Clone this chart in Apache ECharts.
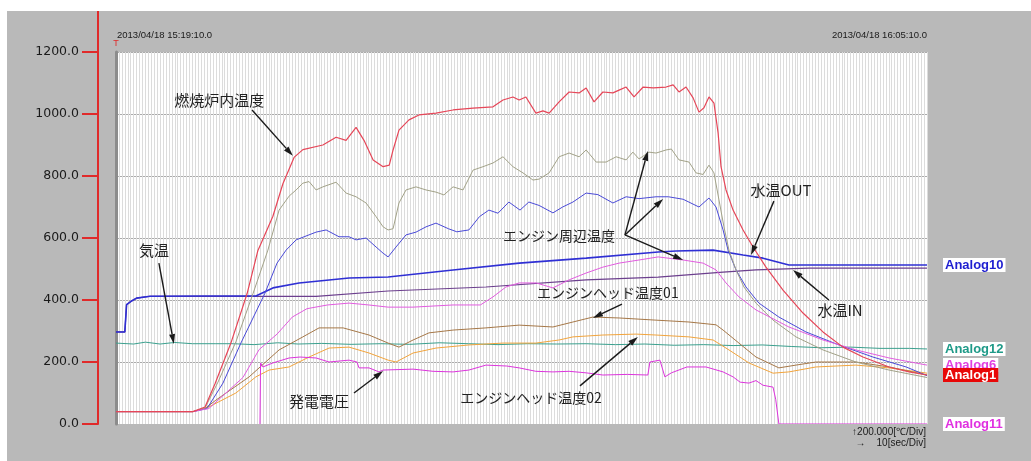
<!DOCTYPE html>
<html>
<head>
<meta charset="utf-8">
<script src="https://cdn.jsdelivr.net/npm/echarts@6/dist/echarts.min.js"></script>
<style>
  html, body { margin: 0; padding: 0; background: #fff; }
  #main { width: 1031px; height: 461px; }
</style>
</head>
<body>
<div id="main"></div>
<script>
// Recorder trace, 2013/04/18 15:19:10 – 16:05:10.
// x = seconds from the start of the record, y = ℃ (200 per division, 10 s per division).
const startStamp = '2013/04/18 15:19:10.0';
const endStamp = '2013/04/18 16:05:10.0';
const scaleNoteY = '↑200.000[℃/Div]';
const scaleNoteX = '→    10[sec/Div]';
const yTicks = [0, 200, 400, 600, 800, 1000, 1200];
const yTickLabels = ['0.0', '200.0', '400.0', '600.0', '800.0', '1000.0', '1200.0'];

// 燃焼炉内温度 (Analog1)
const furnaceTemp = [
  [0,40],[262,40],[303,55],[337,130],[391,261],[446,420],[483,560],[504,605],[534,670],
  [568,775],[606,860],[636,885],[704,900],[749,925],[783,915],[817,957],[844,915],
  [875,852],[909,830],[930,835],[943,884],[963,948],[997,981],[1031,997],[1089,1003],
  [1147,1013],[1215,1019],[1283,1023],[1317,1045],[1351,1055],[1372,1045],[1395,1055],
  [1429,1003],[1453,1010],[1474,1003],[1508,1039],[1542,1071],[1576,1068],[1600,1084],
  [1627,1039],[1657,1071],[1691,1068],[1712,1077],[1736,1087],[1763,1055],[1794,1087],
  [1828,1084],[1872,1087],[1896,1094],[1916,1071],[1940,1087],[1964,1052],[1984,1006],
  [2001,1020],[2018,1055],[2035,1035],[2049,939],[2059,830],[2076,755],[2100,690],
  [2134,626],[2168,571],[2212,506],[2270,432],[2338,358],[2406,297],[2474,248],
  [2542,216],[2631,184],[2699,168],[2760,158]
];

// エンジン周辺温度 (grey trace)
const engineAreaGrey = [
  [0,40],[262,40],[303,52],[347,135],[408,265],[466,420],[517,561],[555,690],[589,735],
  [613,755],[636,777],[657,782],[681,755],[704,765],[749,780],[783,745],[817,733],
  [851,713],[885,669],[909,636],[926,626],[943,630],[963,713],[987,755],[1021,765],
  [1055,755],[1089,748],[1116,739],[1147,765],[1181,755],[1215,819],[1249,830],
  [1283,842],[1317,862],[1351,830],[1385,810],[1419,787],[1440,790],[1474,810],
  [1508,862],[1542,874],[1576,862],[1600,884],[1634,845],[1668,845],[1702,862],
  [1736,852],[1759,877],[1780,855],[1814,877],[1838,874],[1872,884],[1890,887],
  [1916,852],[1950,845],[1974,810],[1998,805],[2018,835],[2035,810],[2052,723],
  [2069,636],[2086,561],[2110,497],[2137,442],[2178,390],[2236,335],[2314,281],
  [2406,239],[2518,200],[2631,174],[2760,150]
];

// エンジン周辺温度 (blue trace)
const engineAreaBlue = [
  [0,40],[262,40],[310,50],[364,132],[425,261],[507,422],[548,519],[579,561],[613,594],
  [681,619],[715,626],[759,604],[793,604],[817,594],[851,600],[885,571],[909,551],
  [926,539],[953,571],[987,610],[1021,619],[1055,636],[1089,648],[1131,630],[1160,620],
  [1201,626],[1237,669],[1269,690],[1300,680],[1337,716],[1375,690],[1405,716],
  [1440,705],[1487,681],[1520,700],[1555,716],[1600,745],[1640,740],[1691,713],
  [1736,733],[1780,727],[1838,733],[1880,733],[1930,725],[1984,700],[2018,729],
  [2042,700],[2066,626],[2083,561],[2110,497],[2144,442],[2188,390],[2256,345],
  [2348,297],[2460,255],[2576,216],[2689,184],[2760,156]
];

// エンジン周辺温度 (pink trace, Analog6)
const engineAreaPink = [
  [0,40],[262,40],[316,50],[432,150],[487,240],[548,290],[600,345],[650,372],[720,384],
  [793,390],[860,384],[926,377],[1011,377],[1147,384],[1240,384],[1283,410],[1327,442],
  [1372,455],[1430,455],[1487,439],[1542,465],[1600,487],[1657,506],[1712,519],
  [1780,529],[1845,539],[1930,529],[1998,519],[2042,497],[2076,455],[2120,410],
  [2178,368],[2290,313],[2406,271],[2518,239],[2631,213],[2760,190]
];

// 水温OUT (Analog10)
const waterOut = [
  [0,297],[30,297],[36,385],[50,395],[70,406],[116,412],[300,413],[476,413],[534,439],
  [623,455],[793,471],[926,474],[1147,497],[1372,519],[1600,535],[1845,555],[1906,558],
  [2032,561],[2134,545],[2202,535],[2290,513],[2760,513]
];

// 水温IN
const waterIn = [
  [0,297],[30,297],[36,385],[50,395],[70,406],[116,412],[681,412],[926,429],[1259,442],
  [1600,465],[1845,474],[2066,490],[2178,497],[2358,503],[2760,503]
];

// エンジンヘッド温度01
const headTemp01 = [
  [0,40],[262,40],[303,50],[340,77],[453,152],[555,239],[636,281],[691,310],[773,310],
  [861,287],[926,261],[963,248],[1011,271],[1065,294],[1147,303],[1259,310],[1372,319],
  [1487,313],[1555,329],[1623,345],[1712,342],[1838,335],[1950,329],[2042,320],
  [2066,303],[2120,261],[2178,216],[2256,181],[2314,190],[2382,200],[2518,200],
  [2631,184],[2760,158]
];

// エンジンヘッド温度02
const headTemp02 = [
  [0,40],[262,40],[316,55],[408,100],[476,152],[521,174],[589,184],[657,216],[725,245],
  [793,248],[861,229],[926,206],[953,200],[1011,229],[1089,245],[1201,255],[1317,261],
  [1429,261],[1508,271],[1555,281],[1657,287],[1770,290],[1838,287],[1950,281],
  [2032,271],[2086,239],[2154,197],[2236,164],[2290,168],[2382,184],[2518,190],
  [2631,181],[2760,164]
];

// 気温 (Analog12)
const airTemp = [
  [0,261],[60,258],[100,264],[150,258],[200,263],[260,259],[340,259],[400,259],[470,256],
  [550,262],[620,258],[700,260],[800,257],[900,259],[1000,257],[1100,262],[1200,259],
  [1300,256],[1400,259],[1500,258],[1600,259],[1700,256],[1800,258],[1900,254],
  [2000,256],[2100,253],[2200,255],[2300,250],[2400,246],[2500,248],[2600,244],
  [2700,244],[2760,242]
];

// 発電電圧 (Analog11)
const genVoltage = [
  [490,0],[492,197],[500,184],[534,197],[589,213],[626,216],[681,213],[725,200],[793,206],
  [820,200],[827,181],[861,181],[895,168],[909,174],[1011,177],[1079,170],[1147,168],
  [1201,174],[1259,190],[1330,187],[1372,181],[1429,170],[1487,168],[1542,170],
  [1600,165],[1657,158],[1740,160],[1810,158],[1817,200],[1851,206],[1868,152],
  [1890,165],[1943,184],[2008,184],[2066,168],[2100,152],[2124,135],[2154,132],
  [2178,140],[2202,125],[2236,119],[2245,80],[2256,0],[2760,0]
];

const chart = echarts.init(document.getElementById('main'));

const labelFont = 'Liberation Sans, Arial, sans-serif';
const jpFont = '"Noto Sans CJK JP", sans-serif';
const panelGrey = '#b9b9b9';
const axisRed = '#e02a2a';

function channelLabel(text, color, bg) {
  return {
    show: true,
    formatter: text,
    distance: 16,
    color: color,
    backgroundColor: bg || '#ffffff',
    padding: [1, 2, 0, 2],
    fontFamily: labelFont,
    fontWeight: 'bold',
    fontSize: 13
  };
}

function trace(name, data, color, width, endLabel) {
  const s = {
    name: name,
    type: 'line',
    data: data,
    showSymbol: false,
    symbol: 'none',
    smooth: false,
    clip: true,
    lineStyle: { color: color, width: width || 1 },
    itemStyle: { color: color },
    emphasis: { disabled: true }
  };
  if (endLabel) s.endLabel = endLabel;
  return s;
}

const option = {
  animation: false,
  backgroundColor: '#ffffff',
  grid: {
    left: 116, top: 52, width: 811, height: 372,
    show: true, backgroundColor: '#ffffff', borderWidth: 0
  },
  xAxis: {
    type: 'value', min: 0, max: 2760, interval: 10,
    axisLine: { show: false }, axisTick: { show: false }, axisLabel: { show: false },
    splitLine: { show: true, lineStyle: { color: '#dcdcdc', width: 1 } }
  },
  yAxis: [
    {
      type: 'value', min: 0, max: 1200, interval: 200, position: 'left', offset: 18,
      axisLine: { show: true, onZero: false, lineStyle: { color: axisRed, width: 2 } },
      axisTick: { show: true, length: 16, lineStyle: { color: axisRed, width: 2 } },
      axisLabel: {
        margin: 19, color: '#1a1a1a', fontSize: 12.5, fontFamily: 'DejaVu Sans, sans-serif',
        formatter: v => yTickLabels[yTicks.indexOf(v)]
      },
      splitLine: { show: true, lineStyle: { color: '#ababab', width: 1 } }
    },
    {
      type: 'value', min: 0, max: 1200, position: 'left', offset: 0,
      axisLine: { show: true, onZero: false, lineStyle: { color: '#8c8c8c', width: 3 } },
      axisTick: { show: false }, axisLabel: { show: false }, splitLine: { show: false }
    }
  ],
  series: [
    trace('気温', airTemp, '#3aa08e', 1, channelLabel('Analog12', '#1f9a88')),
    trace('水温IN', waterIn, '#6c3f8e', 1.2),
    trace('水温OUT', waterOut, '#2f2fd4', 1.6, channelLabel('Analog10', '#1f1fd0')),
    trace('エンジンヘッド温度02', headTemp02, '#f2a43c', 1),
    trace('エンジンヘッド温度01', headTemp01, '#a67848', 1),
    trace('エンジン周辺温度 (青)', engineAreaBlue, '#4a4ad8', 1),
    trace('エンジン周辺温度 (灰)', engineAreaGrey, '#a2a288', 1),
    trace('エンジン周辺温度 (桃)', engineAreaPink, '#e25ce0', 1, channelLabel('Analog6', '#e040e0')),
    trace('発電電圧', genVoltage, '#dc34dc', 1, channelLabel('Analog11', '#e030e0')),
    trace('燃焼炉内温度', furnaceTemp, '#e64658', 1.2, channelLabel('Analog1', '#ffffff', '#e80808'))
  ],
  graphic: {
    elements: [
      { id: 'panel', type: 'rect', z: -10, silent: true,
        shape: { x: 7, y: 11, width: 1024, height: 450 }, style: { fill: panelGrey } },
      { id: 'cursor', type: 'text', silent: true, x: 116, y: 44,
        style: { text: 'T', fill: axisRed, fontSize: 9, fontFamily: labelFont, align: 'center', verticalAlign: 'middle' } },
      { id: 'stampL', type: 'text', silent: true, x: 117, y: 35,
        style: { text: startStamp, fill: '#1a1a1a', fontSize: 9.5, fontFamily: labelFont, align: 'left', verticalAlign: 'middle' } },
      { id: 'stampR', type: 'text', silent: true, x: 927, y: 35,
        style: { text: endStamp, fill: '#1a1a1a', fontSize: 9.5, fontFamily: labelFont, align: 'right', verticalAlign: 'middle' } },
      { id: 'noteY', type: 'text', silent: true, x: 926, y: 432,
        style: { text: scaleNoteY, fill: '#1a1a1a', fontSize: 10, fontFamily: labelFont, align: 'right', verticalAlign: 'middle' } },
      { id: 'noteX', type: 'text', silent: true, x: 926, y: 443,
        style: { text: scaleNoteX, fill: '#1a1a1a', fontSize: 10, fontFamily: labelFont, align: 'right', verticalAlign: 'middle' } }
    ]
  }
};

chart.setOption(option);

// Callouts, anchored in data coordinates (seconds, ℃).
const callouts = [
  { text: '燃焼炉内温度', at: [351, 1045], size: 15, arrows: [[[463, 1013], [602, 865]]] },
  { text: '気温', at: [129, 561], size: 15, arrows: [[[146, 519], [197, 258]]] },
  { text: '発電電圧', at: [691, 74], size: 15, arrows: [[[810, 100], [909, 171]]] },
  { text: 'エンジン周辺温度', at: [1508, 606], size: 14,
    arrows: [[[1732, 610], [1810, 881]], [[1732, 610], [1862, 726]], [[1732, 610], [1930, 529]]] },
  { text: 'エンジンヘッド温度01', at: [1674, 423], size: 14, arrows: [[[1722, 387], [1623, 342]]] },
  { text: 'エンジンヘッド温度02', at: [1412, 84], size: 14, arrows: [[[1579, 123], [1776, 281]]] },
  { text: '水温OUT', at: [2263, 755], size: 15, arrows: [[[2239, 719], [2161, 545]]] },
  { text: '水温IN', at: [2464, 368], size: 15, arrows: [[[2426, 400], [2304, 497]]] }
];

const toPx = p => chart.convertToPixel({ gridIndex: 0 }, p);
const extra = [];

// Red scale line continues up to the top of the panel; the plot's lower edge is panel grey.
const topLeft = toPx([0, 1200]);
const bottomLeft = toPx([0, 0]);
const bottomRight = toPx([2760, 0]);
extra.push({
  id: 'axisTop', type: 'line', silent: true, z: 50,
  shape: { x1: topLeft[0] - 18, y1: 11, x2: topLeft[0] - 18, y2: topLeft[1] + 1 },
  style: { stroke: axisRed, lineWidth: 2 }
});
extra.push({
  id: 'plotFloor', type: 'rect', silent: true, z: 50,
  shape: { x: bottomLeft[0] + 2, y: bottomLeft[1], width: bottomRight[0] - bottomLeft[0] - 2, height: 2 },
  style: { fill: panelGrey }
});

callouts.forEach((c, i) => {
  const pos = toPx(c.at);
  extra.push({
    id: 'callText' + i, type: 'text', silent: true, x: pos[0], y: pos[1], z: 20,
    style: { text: c.text, fill: '#222222', fontSize: c.size, fontFamily: jpFont,
             align: 'center', verticalAlign: 'middle' }
  });
  c.arrows.forEach((a, j) => {
    const p0 = toPx(a[0]);
    const p1 = toPx(a[1]);
    const dx = p1[0] - p0[0], dy = p1[1] - p0[1];
    const len = Math.hypot(dx, dy);
    const ux = dx / len, uy = dy / len;
    const head = 10, half = 3;
    const bx = p1[0] - ux * head, by = p1[1] - uy * head;
    extra.push({
      id: 'callLine' + i + '_' + j, type: 'line', silent: true, z: 20,
      shape: { x1: p0[0], y1: p0[1], x2: bx, y2: by },
      style: { stroke: '#1a1a1a', lineWidth: 1.4 }
    });
    extra.push({
      id: 'callHead' + i + '_' + j, type: 'polygon', silent: true, z: 20,
      shape: { points: [[p1[0], p1[1]], [bx - uy * half, by + ux * half], [bx + uy * half, by - ux * half]] },
      style: { fill: '#1a1a1a' }
    });
  });
});
chart.setOption({ graphic: { elements: extra } });
</script>
</body>
</html>
